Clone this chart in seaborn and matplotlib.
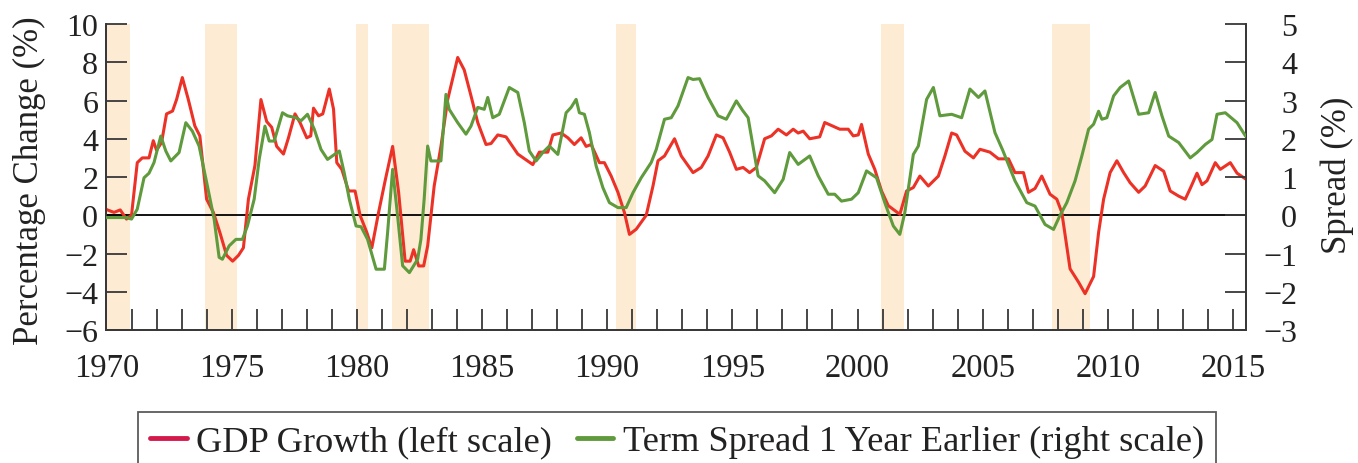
import matplotlib
matplotlib.use("Agg")
import matplotlib.pyplot as plt
from matplotlib.lines import Line2D
import seaborn as sns

# ---------------- data ----------------
gdp_years = [1970.0, 1970.3, 1970.55, 1970.8, 1971.0, 1971.23, 1971.43, 1971.7, 1971.87, 1972.0,
             1972.2, 1972.4, 1972.64, 1972.8, 1973.03, 1973.27, 1973.53, 1973.73, 1974.0, 1974.27,
             1974.53, 1974.8, 1975.04, 1975.27, 1975.47, 1975.67, 1975.93, 1976.17, 1976.4, 1976.6,
             1976.8, 1977.07, 1977.27, 1977.53, 1977.73, 1978.0, 1978.16, 1978.27, 1978.47, 1978.64,
             1978.9, 1979.07, 1979.2, 1979.4, 1979.67, 1979.93, 1980.13, 1980.4, 1980.6, 1980.87,
             1981.13, 1981.43, 1981.67, 1981.93, 1982.13, 1982.27, 1982.47, 1982.67, 1982.83, 1983.09,
             1983.36, 1983.63, 1984.03, 1984.29, 1984.56, 1984.83, 1985.16, 1985.36, 1985.63, 1985.96,
             1986.43, 1987.03, 1987.29, 1987.63, 1987.83, 1988.16, 1988.43, 1988.69, 1988.96, 1989.16,
             1989.36, 1989.69, 1989.89, 1990.16, 1990.43, 1990.69, 1990.89, 1991.16, 1991.56, 1991.83,
             1992.03, 1992.29, 1992.69, 1992.96, 1993.43, 1993.76, 1994.03, 1994.36, 1994.63, 1994.89,
             1995.16, 1995.43, 1995.69, 1995.96, 1996.29, 1996.56, 1996.83, 1997.16, 1997.43, 1997.63,
             1997.83, 1998.09, 1998.49, 1998.69, 1999.03, 1999.29, 1999.63, 1999.83, 2000.03, 2000.16,
             2000.43, 2000.69, 2000.96, 2001.23, 2001.69, 2001.96, 2002.23, 2002.49, 2002.83, 2003.23,
             2003.49, 2003.76, 2003.96, 2004.29, 2004.63, 2004.89, 2005.29, 2005.63, 2006.03, 2006.29,
             2006.63, 2006.83, 2007.09, 2007.36, 2007.69, 2007.96, 2008.16, 2008.49, 2008.83, 2009.09,
             2009.43, 2009.63, 2009.83, 2010.09, 2010.36, 2010.63, 2010.89, 2011.23, 2011.49, 2011.89,
             2012.23, 2012.49, 2012.83, 2013.09, 2013.29, 2013.56, 2013.76, 2013.96, 2014.29, 2014.49,
             2014.89, 2015.16, 2015.5]
gdp_growth = [0.3, 0.15, 0.28, -0.2, 0.0, 2.75, 3.0, 3.0, 3.9, 3.4,
              3.8, 5.3, 5.45, 6.05, 7.2, 6.05, 4.67, 4.15, 0.84, 0.15,
              -0.9, -2.1, -2.4, -2.1, -1.7, 0.84, 2.6, 6.05, 4.9, 4.6,
              3.6, 3.2, 4.05, 5.3, 4.85, 4.05, 4.15, 5.6, 5.2, 5.3,
              6.6, 5.55, 2.75, 2.4, 1.27, 1.27, 0.0, -0.9, -1.7, 0.15,
              1.8, 3.6, 1.2, -2.4, -2.4, -1.8, -2.65, -2.65, -1.6, 1.53,
              3.6, 6.05, 8.25, 7.6, 6.25, 4.85, 3.7, 3.75, 4.2, 4.1,
              3.2, 2.65, 3.3, 3.3, 4.2, 4.3, 4.05, 3.7, 4.05, 3.6,
              3.7, 2.75, 2.75, 2.05, 1.2, 0.14, -1.0, -0.73, 0.0, 1.53,
              2.85, 3.1, 4.0, 3.1, 2.23, 2.5, 3.1, 4.2, 4.05, 3.3,
              2.4, 2.5, 2.23, 2.5, 4.0, 4.15, 4.5, 4.2, 4.5, 4.3,
              4.4, 4.0, 4.1, 4.85, 4.65, 4.5, 4.5, 4.15, 4.2, 4.75,
              3.2, 2.4, 1.27, 0.5, 0.05, 1.27, 1.45, 2.05, 1.53, 2.05,
              3.1, 4.3, 4.2, 3.35, 3.0, 3.45, 3.3, 2.95, 2.95, 2.23,
              2.23, 1.2, 1.4, 2.05, 1.1, 0.84, 0.15, -2.8, -3.5, -4.1,
              -3.2, -0.9, 0.84, 2.23, 2.85, 2.23, 1.7, 1.2, 1.53, 2.6,
              2.3, 1.27, 1.0, 0.84, 1.4, 2.2, 1.6, 1.8, 2.75, 2.4,
              2.75, 2.2, 1.9]

spread_years = [1970.0, 1970.8, 1971.0, 1971.23, 1971.5, 1971.7, 1971.9, 1972.17, 1972.37, 1972.57,
                1972.9, 1973.17, 1973.43, 1973.7, 1974.03, 1974.3, 1974.5, 1974.63, 1974.9, 1975.17,
                1975.43, 1975.63, 1975.9, 1976.1, 1976.33, 1976.5, 1976.7, 1977.03, 1977.23, 1977.57,
                1977.77, 1978.03, 1978.3, 1978.57, 1978.83, 1979.3, 1979.5, 1979.7, 1979.97, 1980.17,
                1980.43, 1980.77, 1981.1, 1981.23, 1981.43, 1981.63, 1981.83, 1982.1, 1982.43, 1982.56,
                1982.69, 1982.83, 1982.96, 1983.36, 1983.56, 1983.69, 1984.03, 1984.36, 1984.56, 1984.83,
                1985.09, 1985.23, 1985.43, 1985.69, 1986.09, 1986.43, 1986.69, 1986.89, 1987.16, 1987.43,
                1987.69, 1988.03, 1988.36, 1988.56, 1988.76, 1988.89, 1989.09, 1989.29, 1989.56, 1989.83,
                1990.09, 1990.43, 1990.76, 1991.03, 1991.36, 1991.76, 1991.96, 1992.29, 1992.56, 1992.83,
                1993.23, 1993.43, 1993.69, 1994.03, 1994.43, 1994.76, 1995.16, 1995.4, 1995.63, 1996.03,
                1996.29, 1996.69, 1997.03, 1997.29, 1997.63, 1998.09, 1998.43, 1998.83, 1999.09, 1999.36,
                1999.76, 2000.03, 2000.36, 2000.76, 2001.09, 2001.43, 2001.69, 2001.89, 2002.23, 2002.43,
                2002.76, 2003.03, 2003.29, 2003.76, 2004.16, 2004.49, 2004.83, 2005.09, 2005.49, 2005.8,
                2006.29, 2006.76, 2007.09, 2007.49, 2007.83, 2008.09, 2008.36, 2008.69, 2008.96, 2009.23,
                2009.43, 2009.63, 2009.76, 2009.96, 2010.23, 2010.49, 2010.83, 2011.23, 2011.63, 2011.89,
                2012.16, 2012.43, 2012.83, 2013.29, 2013.56, 2013.89, 2014.16, 2014.36, 2014.69, 2015.16,
                2015.5]
term_spread = [-0.06, -0.06, -0.1, 0.16, 0.98, 1.1, 1.38, 2.07, 1.68, 1.42,
               1.64, 2.42, 2.2, 1.81, 0.77, -0.1, -1.1, -1.15, -0.8, -0.63,
               -0.63, -0.28, 0.42, 1.46, 2.33, 1.94, 1.94, 2.68, 2.6, 2.55,
               2.47, 2.64, 2.25, 1.72, 1.46, 1.68, 1.1, 0.42, -0.28, -0.3,
               -0.63, -1.41, -1.41, -0.45, 1.2, -0.02, -1.32, -1.5, -1.15, -0.63,
               0.42, 1.81, 1.42, 1.42, 3.16, 2.77, 2.42, 2.12, 2.33, 2.82,
               2.77, 3.08, 2.55, 2.64, 3.34, 3.21, 2.42, 1.68, 1.42, 1.64,
               1.81, 1.59, 2.68, 2.82, 3.03, 2.68, 2.64, 2.16, 1.29, 0.72,
               0.33, 0.2, 0.2, 0.59, 0.98, 1.38, 1.72, 2.51, 2.55, 2.86,
               3.6, 3.55, 3.57, 3.08, 2.6, 2.51, 2.99, 2.75, 2.55, 1.03,
               0.9, 0.59, 0.94, 1.64, 1.33, 1.55, 1.03, 0.55, 0.55, 0.37,
               0.42, 0.59, 1.16, 0.98, 0.33, -0.28, -0.5, 0.07, 1.59, 1.81,
               3.03, 3.34, 2.6, 2.64, 2.55, 3.3, 3.08, 3.25, 2.16, 1.7,
               0.9, 0.33, 0.24, -0.24, -0.37, 0.0, 0.33, 0.9, 1.55, 2.25,
               2.38, 2.72, 2.51, 2.55, 3.12, 3.34, 3.51, 2.64, 2.68, 3.21,
               2.6, 2.07, 1.9, 1.5, 1.64, 1.85, 1.98, 2.64, 2.68, 2.42,
               2.07]

recession_start = [1970.0, 1973.95, 1979.95, 1981.4, 1990.35, 2000.95, 2007.75]
recession_end = [1970.95, 1975.2, 1980.45, 1982.9, 1991.15, 2001.85, 2009.3]

x_tick_years = list(range(1970, 2016))
x_tick_labels = [str(y) if y % 5 == 0 else "" for y in x_tick_years]
left_ticks = [-6, -4, -2, 0, 2, 4, 6, 8, 10]
right_ticks = [-3, -2, -1, 0, 1, 2, 3, 4, 5]

series_labels = ["GDP Growth (left scale)", "Term Spread 1 Year Earlier (right scale)"]
left_label = "Percentage Change (%)"
right_label = "Spread (%)"

# ---------------- style ----------------
sns.set_theme(style="ticks")
plt.rcParams["font.family"] = ["Liberation Serif", "DejaVu Serif"]

RED = "#ec3126"
GREEN = "#5f9a3c"
SHADE = "#fdebd4"
AXC = "#383838"

fig = plt.figure(figsize=(13.58, 4.64), dpi=100)
ax = fig.add_axes([0.0784, 0.2866, 0.9172 - 0.0784, 0.9461 - 0.2866])
ax2 = ax.twinx()

for s, e in zip(recession_start, recession_end):
    ax.axvspan(s, e, color=SHADE, lw=0, zorder=0)

ax.axhline(0, color="black", lw=1.3, zorder=1)

sns.lineplot(x=gdp_years, y=gdp_growth, ax=ax, color=RED, linewidth=2.2, zorder=3)
sns.lineplot(x=spread_years, y=term_spread, ax=ax2, color=GREEN, linewidth=2.2, zorder=3)

ax.set_xlim(1970, 2015.5)
ax.set_ylim(-6, 10)
ax2.set_ylim(-3, 5)

ax.set_xticks(x_tick_years)
ax.set_xticklabels(x_tick_labels)
ax.set_yticks(left_ticks)
ax2.set_yticks(right_ticks)

for a in (ax, ax2):
    a.spines["top"].set_visible(False)
    for sp in a.spines.values():
        sp.set_color(AXC)
        sp.set_linewidth(1.3)
    a.set_xlabel("")

ax.tick_params(axis="x", direction="in", length=15, width=1.3, color=AXC,
               labelsize=23.5, pad=16, labelcolor="#222222")
ax.tick_params(axis="y", direction="in", length=15, width=1.3, color=AXC,
               labelsize=23, pad=6, labelcolor="#222222")
ax2.tick_params(axis="y", direction="in", length=15, width=1.3, color=AXC,
                labelsize=23, pad=37, labelcolor="#222222")
for lab in ax2.get_yticklabels():
    lab.set_horizontalalignment("right")

ax.set_ylabel(left_label, fontsize=25, color="#222222", va="center")
ax.yaxis.set_label_coords(-0.0672, 0.49)
ax2.set_ylabel(right_label, fontsize=25, color="#222222", va="center", rotation=90)
ax2.yaxis.set_label_coords(1.0803, 0.51)

handles = [Line2D([0], [0], color="#d41a4c", lw=3.5),
           Line2D([0], [0], color=GREEN, lw=3.5)]
leg = fig.legend(handles, series_labels, loc="upper center",
                 bbox_to_anchor=(0.4985, 1 - 413 / 464), ncol=2, fontsize=26.2,
                 frameon=True, fancybox=False, borderaxespad=0,
                 handlelength=1.0, handletextpad=0.25, columnspacing=0.7,
                 borderpad=0.35)
leg.get_frame().set_edgecolor("#333333")
leg.get_frame().set_linewidth(1.3)
for t in leg.get_texts():
    t.set_color("#222222")

fig.savefig("out.png", dpi=100)
